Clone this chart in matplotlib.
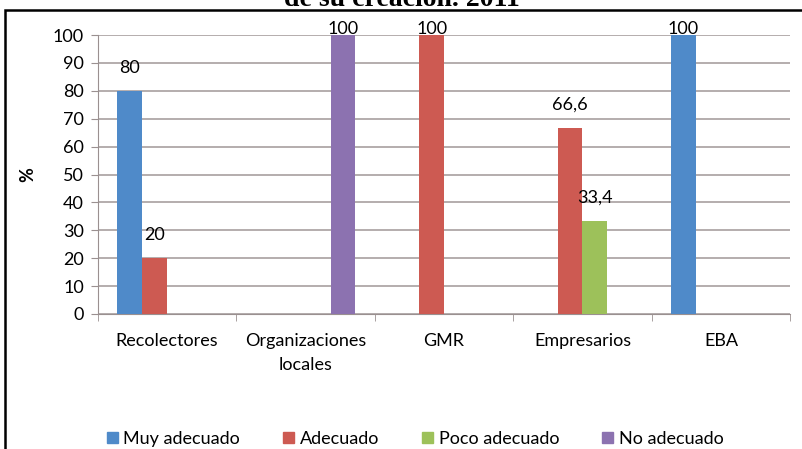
import matplotlib.pyplot as plt
import matplotlib.patches as mpatches
import numpy as np

categories = ['Recolectores', 'Organizaciones\nlocales', 'GMR', 'Empresarios', 'EBA']
series_names = ['Muy adecuado', 'Adecuado', 'Poco adecuado', 'No adecuado']
muy_adecuado = [80, 0, 0, 0, 100]
adecuado = [20, 0, 100, 66.6, 0]
poco_adecuado = [0, 0, 0, 33.4, 0]
no_adecuado = [0, 100, 0, 0, 0]
series = [muy_adecuado, adecuado, poco_adecuado, no_adecuado]
colors = ['#4F8AC9', '#CD5A52', '#9DC15A', '#8C72B0']

plt.rcParams['font.family'] = ['Lato', 'DejaVu Sans']

fig = plt.figure(figsize=(8.03, 4.49), dpi=100)
ax = fig.add_axes([0.122, 0.3007, 0.862, 0.6213])

x = np.arange(len(categories))
w = 0.18
for i, (vals, col) in enumerate(zip(series, colors)):
    pos = x + (i - 1.5) * w
    for p, v in zip(pos, vals):
        if v > 0:
            ax.bar(p, v, width=w, color=col, zorder=3)
            lab = str(v).replace('.', ',') if v != int(v) else str(int(v))
            # labels above the bar, kept inside the top of the plot area
            ax.text(p, min(v + 8.3, 102.2), lab, ha='center', va='center',
                    fontsize=13, zorder=4, clip_on=False)

ax.set_xlim(-0.5, len(categories) - 0.5)
ax.set_ylim(0, 100)
ax.set_yticks(range(0, 101, 10))
ax.tick_params(axis='y', labelsize=13, length=5, color='#9A9090', pad=5)
ax.set_xticks(x)
ax.set_xticklabels(categories, fontsize=13, linespacing=1.6)
ax.set_xticks(np.arange(-0.5, len(categories), 1), minor=True)
ax.tick_params(axis='x', which='major', length=0, pad=14)
ax.tick_params(axis='x', which='minor', length=5, color='#9A9090')
ax.grid(axis='y', color='#A8A0A0', linewidth=1.2, zorder=0)
for s in ['top', 'right']:
    ax.spines[s].set_visible(False)
ax.spines['left'].set_color('#9A9090')
ax.spines['bottom'].set_color('#9A9090')
ax.set_ylabel('%', fontsize=13, fontweight='bold', labelpad=12)

handles = [mpatches.Patch(color=c, label=n) for c, n in zip(colors, series_names)]
fig.legend(handles=handles, loc='center', bbox_to_anchor=(0.517, 0.022), ncol=4,
           frameon=False, fontsize=13, handlelength=0.6, handleheight=0.6,
           handletextpad=0.3, columnspacing=2.4)

# title is cut off at the top in the original
fig.text(0.5, 1.0, 'de su creación. 2011', ha='center', va='center',
         fontsize=20, fontweight='bold', family='Liberation Serif')

fig.patches.append(mpatches.Rectangle((5 / 803, -0.1), 1.2, 1 - 10 / 449 + 0.1,
                                      transform=fig.transFigure, fill=False,
                                      edgecolor='black', linewidth=1.8))

fig.savefig('out.png', dpi=100)
